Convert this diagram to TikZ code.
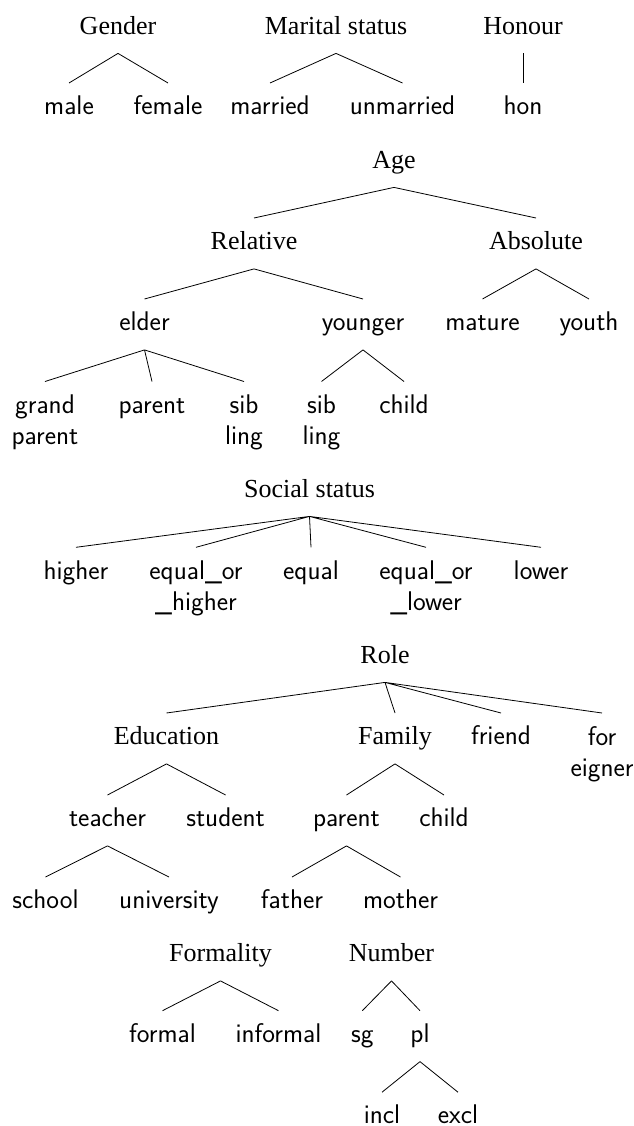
\documentclass[tikz,border=0pt]{standalone}
\usepackage{fontspec}
\newfontfamily\catfont{Liberation Serif}
\usepackage{tikz}
\usetikzlibrary{positioning}

\begin{document}
\begin{tikzpicture}[
  x=1pt,y=-1pt,
  every node/.style={anchor=north,inner xsep=2pt},
  cat/.style={font=\fontsize{26pt}{31pt}\selectfont\catfont,inner ysep=14pt,text height=17.5pt,text depth=5pt},
  leaf/.style={font=\fontsize{27pt}{31pt}\selectfont\sffamily,inner ysep=13pt,text height=18.5pt,text depth=6pt},
  leafm/.style={font=\fontsize{27pt}{31pt}\selectfont\sffamily,inner ysep=13pt,align=center},
  branch/.style={draw=black,line width=0.8pt}
]
\useasboundingbox (0,0) rectangle (633,1126);

% Gender, marital status, honour
\node[cat]  (Gen)  at (118,2.5)   {Gender};
\node[leaf] (Male) at (69,83)     {male};
\node[leaf] (Fem)  at (168,83)    {female};
\node[cat]  (Mar)  at (336,2.5)   {Marital status};
\node[leaf] (Mrd)  at (270,83)    {married};
\node[leaf] (Umrd) at (402.5,83)  {unmarried};
\node[cat]  (Hon)  at (523,2.5)   {Honour};
\node[leaf] (hon)  at (523,83)    {hon};

% Age
\node[cat]   (Age)  at (394,136.5)  {Age};
\node[cat]   (Rel)  at (254,218)    {Relative};
\node[cat]   (Abs)  at (536,218)    {Absolute};
\node[leaf]  (Eld)  at (144.5,299)  {elder};
\node[leaf]  (Yng)  at (363,299)    {younger};
\node[leaf]  (Mat)  at (482.5,299)  {mature};
\node[leaf]  (Yth)  at (589,299)    {youth};
\node[leafm] (GPar) at (45,381.5)   {grand\\parent};
\node[leaf]  (Par)  at (152,381.5)  {parent};
\node[leafm] (SibE) at (244,381.5)  {sib\\ling};
\node[leafm] (SibY) at (321.5,381.5) {sib\\ling};
\node[leaf]  (Chd)  at (404,381.5)  {child};

% Social status
\node[cat]   (Soc)  at (309.5,465.5) {Social status};
\node[leaf]  (Hi)   at (76,547.3)    {higher};
\node[leafm] (EqHi) at (196,547.3)   {equal\_or\\\_higher};
\node[leaf]  (Eq)   at (311,547.3)   {equal};
\node[leafm] (EqLo) at (426,547.3)   {equal\_or\\\_lower};
\node[leaf]  (Lo)   at (541,547.3)   {lower};

% Role
\node[cat]   (Role) at (385,631.5)  {Role};
\node[cat]   (Edu)  at (166.5,713)  {Education};
\node[cat]   (Fam)  at (395,713)    {Family};
\node[leaf]  (Frd)  at (501,713)    {friend};
\node[leafm] (For)  at (602,713)    {for\\eigner};
\node[leaf]  (Tch)  at (107.5,795)  {teacher};
\node[leaf]  (Std)  at (225.6,795)  {student};
\node[leaf]  (FPar) at (346.5,795)  {parent};
\node[leaf]  (FChd) at (444,795)    {child};
\node[leaf]  (Sch)  at (45.5,877)   {school};
\node[leaf]  (Uni)  at (169,877)    {university};
\node[leaf]  (Fat)  at (292,877)    {father};
\node[leaf]  (Mot)  at (400.5,877)  {mother};

% Formality and number
\node[cat]   (Form) at (220.5,930)    {Formality};
\node[leaf]  (Fml)  at (162.5,1010.7) {formal};
\node[leaf]  (Infm) at (278.5,1010.7) {informal};
\node[cat]   (Num)  at (391.5,930)    {Number};
\node[leaf]  (Sg)   at (362.3,1010.7) {sg};
\node[leaf]  (Pl)   at (420,1010.7)   {pl};
\node[leaf]  (Incl) at (382,1092.2)   {incl};
\node[leaf]  (Excl) at (458,1092.2)   {excl};

% Branches
\draw[branch] (Gen.south) -- (Male.north) (Gen.south) -- (Fem.north);
\draw[branch] (Mar.south) -- (Mrd.north) (Mar.south) -- (Umrd.north);
\draw[branch] (Hon.south) -- (hon.north);

\draw[branch] (Age.south) -- (Rel.north) (Age.south) -- (Abs.north);
\draw[branch] (Rel.south) -- (Eld.north) (Rel.south) -- (Yng.north);
\draw[branch] (Abs.south) -- (Mat.north) (Abs.south) -- (Yth.north);
\draw[branch] (Eld.south) -- (GPar.north) (Eld.south) -- (Par.north)
  (Eld.south) -- (SibE.north);
\draw[branch] (Yng.south) -- (SibY.north) (Yng.south) -- (Chd.north);

\draw[branch] (Soc.south) -- (Hi.north) (Soc.south) -- (EqHi.north)
  (Soc.south) -- (Eq.north) (Soc.south) -- (EqLo.north)
  (Soc.south) -- (Lo.north);

\draw[branch] (Role.south) -- (Edu.north) (Role.south) -- (Fam.north)
  (Role.south) -- (Frd.north) (Role.south) -- (For.north);
\draw[branch] (Edu.south) -- (Tch.north) (Edu.south) -- (Std.north);
\draw[branch] (Fam.south) -- (FPar.north) (Fam.south) -- (FChd.north);
\draw[branch] (Tch.south) -- (Sch.north) (Tch.south) -- (Uni.north);
\draw[branch] (FPar.south) -- (Fat.north) (FPar.south) -- (Mot.north);

\draw[branch] (Form.south) -- (Fml.north) (Form.south) -- (Infm.north);
\draw[branch] (Num.south) -- (Sg.north) (Num.south) -- (Pl.north);
\draw[branch] (Pl.south) -- (Incl.north) (Pl.south) -- (Excl.north);

\end{tikzpicture}
\end{document}
